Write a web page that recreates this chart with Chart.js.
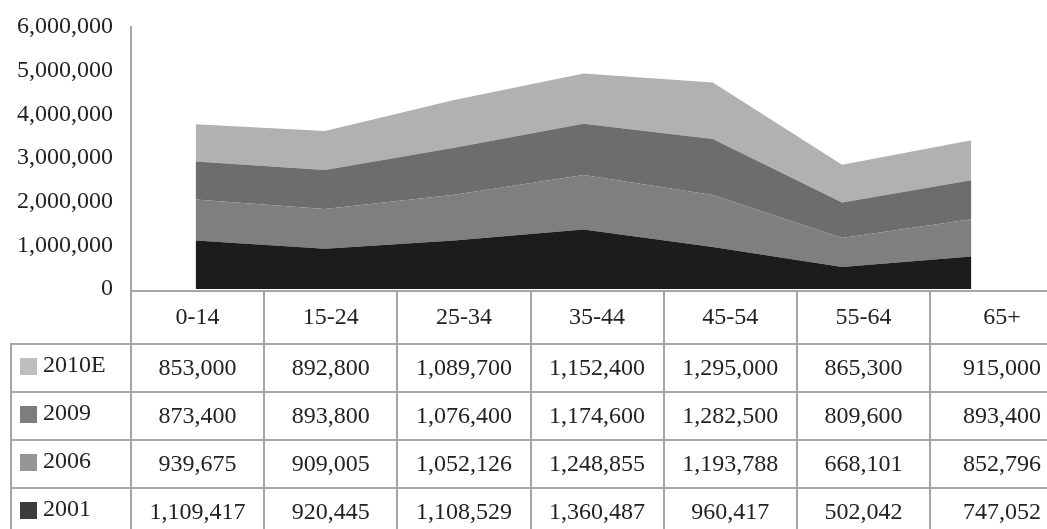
<!DOCTYPE html>
<html>
<head>
<meta charset="utf-8">
<script src="https://cdn.jsdelivr.net/npm/chart.js@4/dist/chart.umd.min.js"></script>
<style>
  html, body { margin: 0; padding: 0; background: #ffffff; }
  #wrap { width: 1047px; height: 529px; position: relative; }
</style>
</head>
<body>
<div id="wrap"><canvas id="c" width="1047" height="529"></canvas></div>
<script>
// Age groups along the horizontal axis
const categories = ['0-14', '15-24', '25-34', '35-44', '45-54', '55-64', '65+'];

// Population by age group, one array per year (stacked bottom to top)
const values2001 = [1109417, 920445, 1108529, 1360487, 960417, 502042, 747052];
const values2006 = [939675, 909005, 1052126, 1248855, 1193788, 668101, 852796];
const values2009 = [873400, 893800, 1076400, 1174600, 1282500, 809600, 893400];
const values2010E = [853000, 892800, 1089700, 1152400, 1295000, 865300, 915000];

const seriesNames = ['2001', '2006', '2009', '2010E'];
const seriesValues = [values2001, values2006, values2009, values2010E];
const areaColors = ['#1c1c1c', '#7f7f7f', '#6d6d6d', '#b1b1b1'];
const keyColors = ['#3c3c3c', '#959595', '#7d7d7d', '#bdbec0'];

const yMax = 6000000;
const yStep = 1000000;

const FONT = '"Liberation Serif", "Times New Roman", serif';
const FONT_SIZE = 24;
const TEXT = '#222222';
const RULE = '#a6a6a6';

const fmt = v => Number(v).toLocaleString('en-US');

// Data table drawn under the plot, aligned to the chart area
const dataTable = {
  id: 'dataTable',
  afterDraw(chart) {
    const ctx = chart.ctx;
    const ca = chart.chartArea;
    const W = chart.width, H = chart.height;
    const top = Math.round(ca.bottom) + 2;
    const headerH = 53;
    const rowH = 48;
    const colW = 133.17;
    const legendLeft = 11;
    const n = categories.length;

    ctx.save();
    ctx.strokeStyle = RULE;
    ctx.lineWidth = 2;
    ctx.beginPath();
    // axis / table top rule
    ctx.moveTo(ca.left - 1, top); ctx.lineTo(W, top);
    // row rules
    for (let r = 0; r < seriesNames.length; r++) {
      const y = top + headerH + r * rowH;
      ctx.moveTo(legendLeft - 1, y); ctx.lineTo(W, y);
    }
    // legend column left edge
    ctx.moveTo(legendLeft, top + headerH - 1); ctx.lineTo(legendLeft, H);
    // column edges
    for (let i = 0; i <= n - 1; i++) {
      const x = Math.round(ca.left + i * colW);
      ctx.moveTo(x, i === 0 ? ca.bottom : top); ctx.lineTo(x, H);
    }
    ctx.stroke();

    const colCenter = i => {
      const l = ca.left + i * colW;
      const r = i === n - 1 ? 1074 : l + colW;
      return (l + r) / 2;
    };

    ctx.fillStyle = TEXT;
    ctx.font = FONT_SIZE + 'px ' + FONT;
    ctx.textAlign = 'center';
    ctx.textBaseline = 'middle';
    categories.forEach((c, i) => ctx.fillText(c, colCenter(i), top + headerH / 2));

    // rows: latest year on top
    const order = seriesNames.map((_, k) => k).reverse();
    order.forEach((k, r) => {
      const yc = top + headerH + r * rowH + rowH / 2;
      ctx.fillStyle = keyColors[k];
      ctx.fillRect(20, Math.round(yc - 10), 17, 17);
      ctx.fillStyle = TEXT;
      ctx.textAlign = 'left';
      ctx.fillText(seriesNames[k], 43, yc - 2);
      ctx.textAlign = 'center';
      seriesValues[k].forEach((v, i) => ctx.fillText(fmt(v), colCenter(i), yc + 1));
    });
    ctx.restore();
  }
};

new Chart(document.getElementById('c'), {
  type: 'line',
  data: {
    labels: categories,
    datasets: seriesNames.map((name, k) => ({
      label: name,
      data: seriesValues[k],
      backgroundColor: areaColors[k],
      borderWidth: 0,
      borderColor: areaColors[k],
      pointRadius: 0,
      tension: 0,
      fill: k === 0 ? 'origin' : '-1'
    }))
  },
  options: {
    responsive: false,
    animation: false,
    layout: { padding: { left: 0, right: 11, top: 27, bottom: 240 } },
    plugins: { legend: { display: false }, tooltip: { enabled: false } },
    scales: {
      x: {
        type: 'category',
        offset: true,
        display: false
      },
      y: {
        stacked: true,
        min: 0,
        max: yMax,
        afterFit: s => { s.width = 131; },
        grid: {
          display: true,
          drawOnChartArea: false,
          drawTicks: true,
          tickLength: 15,
          tickColor: 'rgba(0,0,0,0)',
          color: 'rgba(0,0,0,0)'
        },
        border: { display: true, color: RULE, width: 2 },
        ticks: {
          stepSize: yStep,
          padding: 3,
          color: TEXT,
          font: { family: FONT, size: FONT_SIZE },
          callback: v => fmt(v)
        }
      }
    }
  },
  plugins: [dataTable]
});
</script>
</body>
</html>
